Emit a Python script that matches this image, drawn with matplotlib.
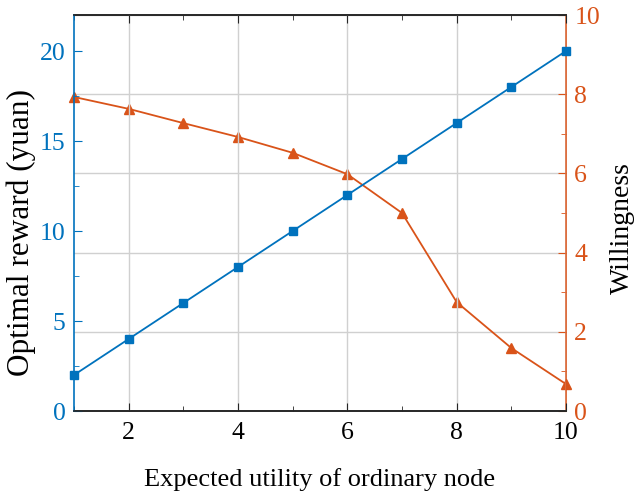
import matplotlib
matplotlib.use("Agg")
import matplotlib.pyplot as plt
from matplotlib.ticker import MultipleLocator

plt.rcParams['font.family'] = ['Liberation Serif', 'DejaVu Serif']
plt.rcParams['mathtext.fontset'] = 'stix'

utility = [1, 2, 3, 4, 5, 6, 7, 8, 9, 10]
reward = [2, 4, 6, 8, 10, 12, 14, 16, 18, 20]
willingness = [7.93, 7.63, 7.27, 6.92, 6.52, 5.98, 5.0, 2.75, 1.59, 0.68]

blue = '#0072BD'
orange = '#D95319'

fig = plt.figure(figsize=(6.35, 4.96), dpi=100)
ax = fig.add_axes([74/635, 1-411/496, (566-74)/635, (411-15)/496])
ax2 = ax.twinx()

ax.plot(utility, reward, color=blue, marker='s', markersize=5.5, linewidth=1.3, clip_on=False, zorder=3)
ax2.plot(utility, willingness, color=orange, marker='^', markersize=6.5, linewidth=1.3, clip_on=False, zorder=3)

ax.set_xlim(1, 10)
ax.set_ylim(0, 22)
ax2.set_ylim(0, 10)

ax.xaxis.set_major_locator(MultipleLocator(2))
ax.xaxis.set_minor_locator(MultipleLocator(1))
ax.yaxis.set_major_locator(MultipleLocator(5))
ax.yaxis.set_minor_locator(MultipleLocator(2.5))
ax2.yaxis.set_major_locator(MultipleLocator(2))
ax2.yaxis.set_minor_locator(MultipleLocator(1))

fs = 18.5
ax.tick_params(axis='x', which='both', direction='in', top=True, labelsize=fs, colors='#262626', pad=8)
ax.tick_params(axis='x', which='major', length=6)
ax.tick_params(axis='x', which='minor', length=3.5)
ax.tick_params(axis='y', which='both', direction='in', colors=blue, labelsize=fs, pad=6)
ax.tick_params(axis='y', which='major', length=6)
ax.tick_params(axis='y', which='minor', length=3.5)
ax2.tick_params(axis='y', which='both', direction='in', colors=orange, labelsize=fs, pad=6)
ax2.tick_params(axis='y', which='major', length=6)
ax2.tick_params(axis='y', which='minor', length=3.5)

for lbl in ax.get_xticklabels():
    lbl.set_color('black')

ax.spines['left'].set_color(blue)
ax.spines['right'].set_visible(False)
ax2.spines['left'].set_visible(False)
ax2.spines['right'].set_color(orange)
for a in (ax, ax2):
    a.spines['top'].set_color('#262626')
    a.spines['bottom'].set_color('#262626')
    for s in a.spines.values():
        s.set_linewidth(1.2)

ax.grid(True, axis='x', color='#d0d0d0', linewidth=1.0)
ax2.grid(True, axis='y', color='#d0d0d0', linewidth=1.0)
ax.set_axisbelow(True)
ax2.set_axisbelow(True)
ax.set_zorder(ax2.get_zorder() + 1)
ax.patch.set_visible(False)

ax.set_xlabel('Expected utility of ordinary node', fontsize=19, labelpad=17)
ax.set_ylabel('Optimal reward (yuan)', fontsize=22.5)
ax2.set_ylabel('Willingness', fontsize=20)
ax.yaxis.set_label_coords(-0.077, 0.45)
ax2.yaxis.set_label_coords(1.089, 0.462)

fig.savefig('out.png', dpi=100)
